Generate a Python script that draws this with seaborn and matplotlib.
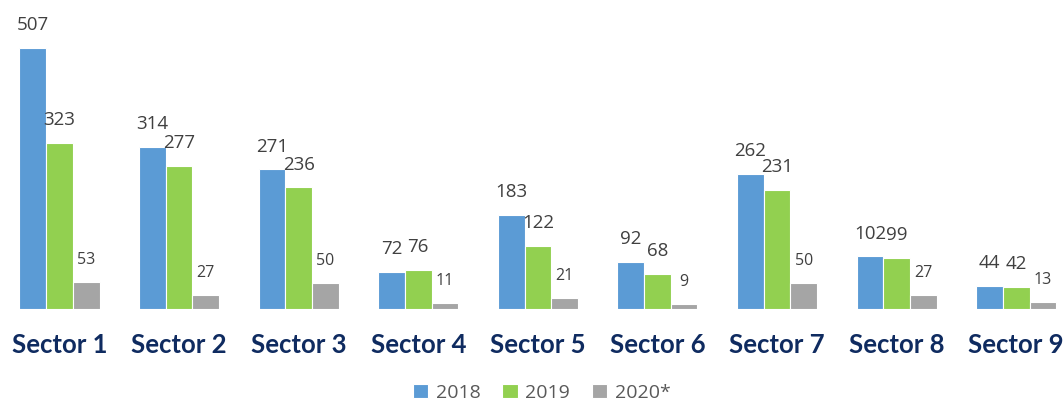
import pandas as pd
import seaborn as sns
import matplotlib.pyplot as plt

sectors = [f"Sector {i}" for i in range(1, 10)]
years = ["2018", "2019", "2020*"]
v2018 = [507, 314, 271, 72, 183, 92, 262, 102, 44]
v2019 = [323, 277, 236, 76, 122, 68, 231, 99, 42]
v2020 = [53, 27, 50, 11, 21, 9, 50, 27, 13]
colors = ["#5B9BD5", "#92D050", "#A5A5A5"]

df = pd.DataFrame({
    "sector": sectors * 3,
    "year": [years[0]] * 9 + [years[1]] * 9 + [years[2]] * 9,
    "value": v2018 + v2019 + v2020,
})

sns.set_style("white")
plt.rcParams["font.family"] = ["Open Sans", "DejaVu Sans"]

fig = plt.figure(figsize=(10.64, 4.08), dpi=100)
ax = fig.add_axes([0, 99 / 408, 1, 309 / 408])

sns.barplot(data=df, x="sector", y="value", hue="year", hue_order=years,
            palette=colors, saturation=1, width=0.67, edgecolor="white",
            linewidth=0.8, ax=ax, legend=True)

for i, cont in enumerate(ax.containers):
    ax.bar_label(cont, padding=10, fontsize=13.5 if i < 2 else 11.5,
                 color="#404040")

ax.set_ylim(0, 600)
ax.set_xlim(-0.498, 8.40)
ax.set_xlabel("")
ax.set_ylabel("")
ax.set_yticks([])
sns.despine(ax=ax, left=True, bottom=True)
ax.tick_params(axis="x", length=0, pad=17)
for lbl in ax.get_xticklabels():
    lbl.set_fontfamily(["Lato", "DejaVu Sans"])
    lbl.set_fontweight("bold")
    lbl.set_fontsize(18.5)
    lbl.set_color("#0F2B60")

handles, labels = ax.get_legend_handles_labels()
ax.get_legend().remove()
fig.legend(handles, labels, loc="upper center", bbox_to_anchor=(0.509, 42 / 408),
           ncol=3, frameon=False, fontsize=14, handlelength=0.8,
           handleheight=0.8, columnspacing=1.1, handletextpad=0.4,
           labelcolor="#595959")

fig.savefig("out.png", dpi=100)
